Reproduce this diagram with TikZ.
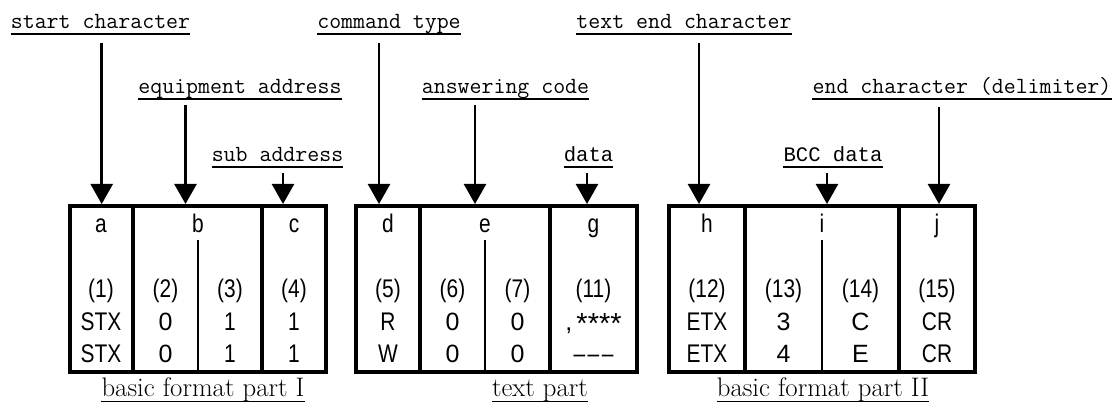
\documentclass[tikz,border=0pt]{standalone}
\usepackage{fontspec}
\usetikzlibrary{arrows.meta}
\newfontfamily\cellfont[FakeStretch=0.82]{Liberation Sans}
\newfontfamily\cellwide{Liberation Sans}
\newfontfamily\gothmono{Liberation Mono}
\tikzset{
  lbl/.style={font=\ttfamily\fontsize{23.2}{28}\selectfont, inner sep=0pt, anchor=base},
  glbl/.style={font=\gothmono\fontsize{20.6}{24}\selectfont, inner sep=0pt, anchor=base},
  caplbl/.style={font=\rmfamily\fontsize{26.8}{30}\selectfont, inner sep=0pt, anchor=base},
  cell/.style={font=\cellfont\fontsize{25.5}{30}\selectfont, inner sep=0pt, anchor=base},
  cellw/.style={font=\cellwide\fontsize{25}{30}\selectfont, inner sep=0pt, anchor=base},
  ul/.style={line width=1.5pt},
  box/.style={line width=4pt},
  sub/.style={line width=1.6pt},
  arr/.style={line width=2.5pt, -{Triangle[length=20pt,width=22pt]}},
}
\newcommand\mylabel[5]{%
  \node[#1] (#2) at (#3) {#4};
  \draw[ul] ([yshift=-#5pt]#2.base west) -- ([yshift=-#5pt]#2.base east);}
\begin{document}
\begin{tikzpicture}[x=1pt,y=-1pt]
\useasboundingbox (0,0) rectangle (1120,403);
% boxes
\draw[box] (70,206) rectangle (326,372);
\draw[box] (133,206) -- (133,372);
\draw[box] (262,206) -- (262,372);
\draw[sub] (198,240) -- (198,372);
\draw[box] (356,206) rectangle (637,372);
\draw[box] (420,206) -- (420,372);
\draw[box] (550,206) -- (550,372);
\draw[sub] (485,240) -- (485,372);
\draw[box] (669,206) rectangle (975,372);
\draw[box] (745,206) -- (745,372);
\draw[box] (899,206) -- (899,372);
\draw[sub] (822,240) -- (822,372);
% top labels
\mylabel{lbl}{L1}{100.5,29}{start character}{5}
\mylabel{lbl}{L2}{389,29}{command type}{5}
\mylabel{lbl}{L3}{684,29}{text end character}{5}
\mylabel{lbl}{L4}{240,94}{equipment address}{5}
\mylabel{lbl}{L5}{505.5,94}{answering code}{5}
\mylabel{lbl}{L6}{962,94}{end character (delimiter)}{5}
\mylabel{lbl}{L7}{277.5,162}{sub address}{5}
\mylabel{glbl}{L8}{588.5,162}{data}{5}
\mylabel{glbl}{L9}{833,162}{BCC data}{5}
% bottom labels
\mylabel{caplbl}{B1}{203,397}{basic format part I}{4.5}
\mylabel{caplbl}{B2}{540,397}{text part}{4.5}
\mylabel{caplbl}{B3}{823,397}{basic format part II}{4.5}
% arrow coordinates
\coordinate (s1) at (101.7,43);  \coordinate (t1) at (101.7,204);
\coordinate (s2) at (185.5,105); \coordinate (t2) at (185.5,204);
\coordinate (s3) at (283,173);   \coordinate (t3) at (283,204);
\coordinate (s4) at (379,43);    \coordinate (t4) at (379,204);
\coordinate (s5) at (475,105);   \coordinate (t5) at (475,204);
\coordinate (s6) at (587,173);   \coordinate (t6) at (587,204);
\coordinate (s7) at (699,43);    \coordinate (t7) at (699,204);
\coordinate (s8) at (827,173);   \coordinate (t8) at (827,204);
\coordinate (s9) at (939,107);   \coordinate (t9) at (939,204);
\foreach \i in {1,...,9} \draw[arr] (s\i) -- (t\i);
% cell letters
\node[cell] (ca) at (101,233) {a};
\node[cell] (cb) at (198,233) {b};
\node[cell] (cc) at (294,233) {c};
\node[cell] (cd) at (388,233) {d};
\node[cell] (ce) at (485,233) {e};
\node[cell] (cg) at (593.5,233) {g};
\node[cell] (ch) at (707,233) {h};
\node[cell] (ci) at (822,233) {i};
\node[cell] (cj) at (937,233) {j};
% numbers
\node[cell] (n1) at (101,298) {(1)};
\node[cell] (n2) at (165.5,298) {(2)};
\node[cell] (n3) at (230,298) {(3)};
\node[cell] (n4) at (294,298) {(4)};
\node[cell] (n5) at (388,298) {(5)};
\node[cell] (n6) at (452.5,298) {(6)};
\node[cell] (n7) at (517.5,298) {(7)};
\node[cell] (n11) at (593.5,298) {(11)};
\node[cell] (n12) at (707,298) {(12)};
\node[cell] (n13) at (783.5,298) {(13)};
\node[cell] (n14) at (860.5,298) {(14)};
\node[cell] (n15) at (937,298) {(15)};
% row 1
\node[cell] (r1a) at (101,331) {STX};
\node[cellw] (r1b) at (165.5,331) {0};
\node[cell] (r1c) at (230,331) {1};
\node[cell] (r1d) at (294,331) {1};
\node[cell] (r1e) at (388,331) {R};
\node[cellw] (r1f) at (452.5,331) {0};
\node[cellw] (r1g) at (517.5,331) {0};
\node[cellw] (r1h) at (593.5,331) {,\,\raisebox{-2.5pt}{\fontsize{29}{30}\selectfont ****}};
\node[cell] (r1i) at (707,331) {ETX};
\node[cellw] (r1j) at (783.5,331) {3};
\node[cellw] (r1k) at (860.5,331) {C};
\node[cell] (r1l) at (937,331) {CR};
% row 2
\node[cell] (r2a) at (101,363) {STX};
\node[cellw] (r2b) at (165.5,363) {0};
\node[cell] (r2c) at (230,363) {1};
\node[cell] (r2d) at (294,363) {1};
\node[cell] (r2e) at (388,363) {W};
\node[cellw] (r2f) at (452.5,363) {0};
\node[cellw] (r2g) at (517.5,363) {0};
\node[cell] (r2h) at (593.5,363) {–\kern2.5pt–\kern2.5pt–};
\node[cell] (r2i) at (707,363) {ETX};
\node[cellw] (r2j) at (783.5,363) {4};
\node[cellw] (r2k) at (860.5,363) {E};
\node[cell] (r2l) at (937,363) {CR};
\end{tikzpicture}
\end{document}
